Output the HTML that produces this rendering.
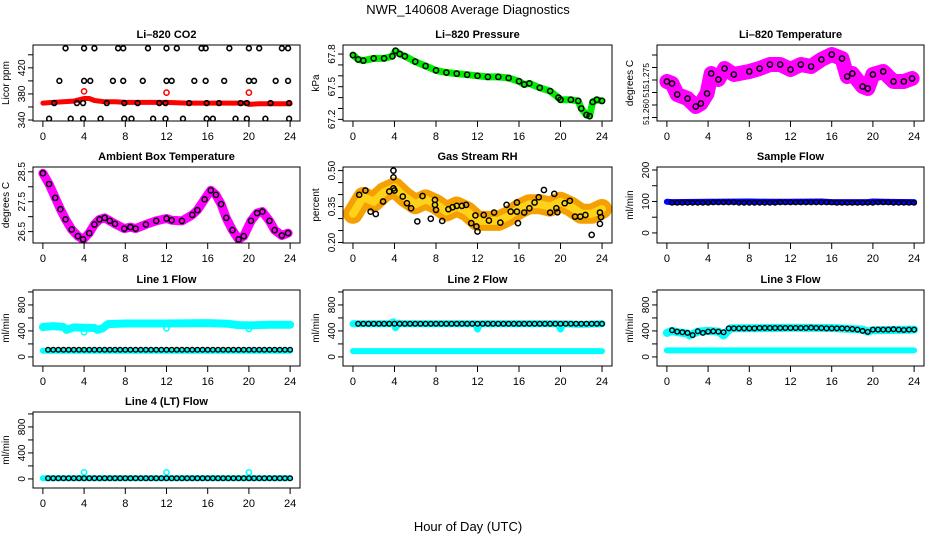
<!DOCTYPE html>
<html><head><meta charset="utf-8"><title>NWR_140608 Average Diagnostics</title>
<style>
html,body{margin:0;padding:0;background:#fff;}
svg{display:block;font-family:"Liberation Sans",Arial,sans-serif;}
</style></head>
<body>
<svg id="chart" width="936" height="540" viewBox="0 0 936 540" xmlns="http://www.w3.org/2000/svg">
<rect width="936" height="540" fill="#fff"/>
<text x="468" y="14" text-anchor="middle" font-size="13">NWR_140608  Average Diagnostics</text>
<text x="468" y="531" text-anchor="middle" font-size="13">Hour of Day (UTC)</text>
</svg>
<script>
// ---- data ----
const co2Hours=[0,1,2,3,3.5,4,4.5,5,6,7,8,10,12,14,16,18,19.9,20,21,22,24];
const co2Red=[366,367,368,369,371,373,373,370,368,368,367,367,367,366,366,366,366,364,365,365,365];
const co2RedCircleHours=[4,12,20];
const co2RedCircles=[384,382,382];
const co2TopHours=[2.2,4,5,7.3,7.8,10.2,12,13,15.4,15.8,18.1,20,21,23.2,23.8];
const co2Row400Hours=[1.6,4,4.6,6.8,7.8,9.7,12,12.5,14.7,15.8,17.6,20,20.5,22.6,23.8];
const co2Row366Hours=[1.1,3.3,3.9,6.2,7.9,9.2,11.3,11.9,14.2,15.9,17.1,19.2,19.8,22.1,23.9];
const co2Row342Hours=[0.6,2.7,3.9,5.6,7.9,8.6,10.7,11.9,13.6,15.9,16.5,18.7,19.8,21.6,23.9];
const co2Levels=[450,400,366,342];

const presHours=[0,0.5,1,2,3,3.8,4.1,4.5,5,6,7,8,9,10,11,12,13,14,15,16,16.5,17,18,19,19.8,20,21,21.7,22,22.5,22.8,23.1,23.5,24];
const presVals=[67.79,67.75,67.74,67.76,67.76,67.78,67.83,67.80,67.78,67.73,67.69,67.65,67.63,67.62,67.61,67.60,67.59,67.59,67.58,67.55,67.52,67.53,67.49,67.46,67.40,67.38,67.38,67.37,67.30,67.24,67.23,67.36,67.38,67.37];

const tempHours=[0,0.5,1,2,2.8,3.3,3.9,4.3,5,5.6,6.5,8,9,10,11,12,13,14,15,16,17,17.5,18,19,19.5,20,21,22,23,23.8];
const tempVals=[51.2694,51.2686,51.2642,51.2626,51.2594,51.2606,51.2646,51.2726,51.2702,51.2746,51.2722,51.2734,51.2746,51.2762,51.2762,51.2742,51.2762,51.2754,51.2782,51.2802,51.2786,51.2714,51.2726,51.2674,51.2666,51.2722,51.2734,51.2694,51.2694,51.2706];

const ambHours=[0,0.6,1.2,1.7,2.2,2.8,3.4,3.9,4.5,5,5.5,6,6.5,7,7.9,8.5,9,10,11,12,12.5,13.5,14.5,15,15.7,16.3,16.8,17.3,17.8,18.4,19,19.5,20.2,20.8,21.3,22,22.5,23.2,23.8];
const ambVals=[28.45,28.09,27.63,27.25,26.91,26.57,26.35,26.24,26.45,26.74,26.91,26.96,26.86,26.76,26.6,26.65,26.6,26.74,26.86,26.94,26.88,26.86,27.06,27.22,27.58,27.88,27.73,27.42,26.96,26.55,26.24,26.35,26.86,27.12,27.17,26.86,26.55,26.37,26.45];

const rhBandHours=[0,1,2,3,4,5,6,7,8,9,10,11,12,13,14,15,16,17,18,19,20,21,22,23,24];
const rhBandVals=[0.32,0.39,0.37,0.41,0.43,0.39,0.36,0.38,0.36,0.33,0.35,0.33,0.29,0.29,0.29,0.31,0.34,0.36,0.36,0.35,0.37,0.35,0.32,0.32,0.34];
const rhHours=[0.6,1.2,1.7,2.2,2.9,3.5,3.9,3.9,3.9,4.0,4.8,5.2,5.6,6.2,6.7,7.5,7.9,7.9,8.0,8.6,9.2,9.6,10.0,10.5,10.9,11.4,11.8,11.9,12.0,12.6,13.1,13.6,14.2,14.8,15.2,15.8,15.9,15.8,16.5,17.0,17.5,17.9,18.4,19.0,19.4,19.6,19.7,20.4,20.9,21.4,21.9,22.4,23.0,23.8,23.9,23.8];
const rhVals=[0.399,0.417,0.329,0.319,0.371,0.413,0.426,0.472,0.50,0.417,0.392,0.364,0.343,0.288,0.394,0.299,0.378,0.357,0.336,0.290,0.339,0.347,0.353,0.353,0.357,0.281,0.313,0.267,0.246,0.315,0.292,0.325,0.283,0.357,0.329,0.367,0.281,0.329,0.325,0.343,0.367,0.389,0.419,0.325,0.403,0.343,0.326,0.364,0.374,0.308,0.308,0.315,0.232,0.325,0.306,0.278];

const halfHours=[0.5,1,1.5,2,2.5,3,3.5,4,4.5,5,5.5,6,6.5,7,7.5,8,8.5,9,9.5,10,10.5,11,11.5,12,12.5,13,13.5,14,14.5,15,15.5,16,16.5,17,17.5,18,18.5,19,19.5,20,20.5,21,21.5,22,22.5,23,23.5,24];
const sampleBlack=[96,96,96,96,96,96,96,96,97,97,97,97,97,96,96,96,96,96,96,96,96,97,97,97,97,97,97,97,97,97,97,97,96,96,96,96,96,96,96,96,97,97,97,96,96,96,96,96];
const sampleBlueHours=[0,0.5,4,8,10,12,15,16,19.5,20,21,24];
const sampleBlue=[99,98,99,100,99,99,100,98,98,100,99,98];

const line1UpperHours=[0,1,2,2.3,3,4,5,5.3,5.8,6.3,8,12,16,18,19,20,22,24];
const line1Upper=[460,475,460,415,455,450,445,415,440,505,515,515,520,510,490,485,495,495];
const line1LowerHours=[0,24];
const line1Lower=[95,95];
const line1Black=[110,110,110,110,110,110,110,110,110,110,110,110,110,110,110,110,110,110,110,110,110,110,110,110,110,110,110,110,110,110,110,110,110,110,110,110,110,110,110,110,110,110,110,110,110,110,110,110];
const flowCircleHours=[4,12,20];
const line1Circles=[380,440,430];

const line2UpperHours=[0,3.5,3.9,4.1,4.4,4.8,11.8,12,12.2,19.8,20,20.2,22,24];
const line2Upper=[510,510,540,450,520,510,510,430,510,510,430,510,500,510];
const line2LowerHours=[0,24];
const line2Lower=[90,90];
const line2Black=[510,510,510,510,510,510,510,510,510,510,510,510,510,510,510,510,510,510,510,510,510,510,510,510,510,510,510,510,510,510,510,510,510,510,510,510,510,510,510,510,510,510,510,510,510,510,510,510];

const line3UpperHours=[0,0.5,1,2,2.2,3,4,5,5.5,5.8,6.2,8,12,16,19,19.5,20,24];
const line3Upper=[370,400,380,360,330,390,400,390,330,380,440,440,450,445,420,390,410,420];
const line3LowerHours=[0,24];
const line3Lower=[100,100];
const line3Black=[410,390,380,370,335,395,370,390,395,390,380,440,440,440,440,440,440,445,445,445,445,445,445,445,445,445,445,450,445,445,440,440,440,440,435,430,420,400,385,420,420,420,420,425,420,415,420,420];

const line4Hours=[0,24];
const line4Cyan=[10,10];
const line4Black=[10,10,10,10,10,10,10,10,10,10,10,10,10,10,10,10,10,10,10,10,10,10,10,10,10,10,10,10,10,10,10,10,10,10,10,10,10,10,10,10,10,10,10,10,10,10,10,10];
const line4Circles=[100,100,100];

const xTicks=[0,4,8,12,16,20,24];

// ---- drawing ----
const NS='http://www.w3.org/2000/svg';
const svg=document.getElementById('chart');
const colsX=[[33,300],[343,612],[657,924]];
const rowsY=[45,167,290,412];
const PH=76;
let clipId=0;
function mk(tag,attrs,parent){
  const el=document.createElementNS(NS,tag);
  for(const k in attrs) el.setAttribute(k,attrs[k]);
  (parent||svg).appendChild(el);
  return el;
}
function panel(c,r,ylim,name,title,ylab,yticks,ylabels,lfs){
  const x0=colsX[c][0],x1=colsX[c][1],y0=rowsY[r],y1=y0+PH;
  const g=mk('g',{});
  
  
  const p={x:h=>x0+(h+0.96)/25.92*(x1-x0),y:v=>y1-(v-ylim[0])/(ylim[1]-ylim[0])*PH,g:g};
  const t=mk('text',{x:(x0+x1)/2,y:y0-7,'text-anchor':'middle','font-size':11,'font-weight':'bold'},g);
  t.textContent=title;
  
  
  const yl=mk('text',{x:0,y:0,'text-anchor':'middle','font-size':10,transform:`translate(${x0-24},${(y0+y1)/2}) rotate(-90)`},g);
  yl.textContent=ylab;
  
  
  xTicks.forEach(h=>{
    const X=p.x(h);
    const tk=mk('line',{x1:X,x2:X,y1:y1,y2:y1+6,stroke:'#000','stroke-width':1},g);
    
    
    const tl=mk('text',{x:X,y:y1+19,'text-anchor':'middle','font-size':11},g);
    tl.textContent=h;
    
    
  });
  yticks.forEach(v=>{
    const Y=p.y(v);
    const tk=mk('line',{x1:x0-5,x2:x0,y1:Y,y2:Y,stroke:'#000','stroke-width':1},g);
    
    
  });
  ylabels.forEach(([v,s])=>{
    const Y=p.y(v);
    const tl=mk('text',{x:0,y:0,'text-anchor':'middle','font-size':lfs||10,transform:`translate(${x0-8},${Y}) rotate(-90)`},g);
    tl.textContent=s;
    
    
  });
  clipId++;
  const cp=mk('clipPath',{id:'cp'+clipId},g);
  mk('rect',{x:x0,y:y0,width:x1-x0,height:PH},cp);
  const marks=mk('g',{'clip-path':`url(#cp${clipId})`},g);
  
  
  p.m=marks;
  p.box=()=>{
    const b=mk('rect',{x:x0,y:y0,width:x1-x0,height:PH,fill:'none',stroke:'#000','stroke-width':1},g);
    
    
  };
  return p;
}
function band(p,hs,vs,color,w,name){
  const pts=hs.map((h,i)=>p.x(h).toFixed(1)+','+p.y(vs[i]).toFixed(1)).join(' ');
  const l=mk('polyline',{points:pts,fill:'none',stroke:color,'stroke-width':w,'stroke-linejoin':'round','stroke-linecap':'round'},p.m);
  
  
}
function circles(p,hs,vs,color,name,r,sw){
  hs.forEach((h,i)=>{
    const c=mk('circle',{cx:p.x(h),cy:p.y(vs[i]),r:r||2.6,fill:'none',stroke:color,'stroke-width':sw||1.5},p.m);
    
    
  });
}
function range(a,b,s){const o=[];for(let v=a;v<=b+1e-9;v+=s)o.push(+v.toFixed(6));return o;}

// CO2
let p=panel(0,0,[338.5,455],'co2','Li\u2013820 CO2','Licor ppm',range(340,440,20),[[340,'340'],[380,'380'],[420,'420']]);
band(p,co2Hours,co2Red,'#ff0000',5,'co2-red-band');
circles(p,co2RedCircleHours,co2RedCircles,'#ff0000','co2-red-point');
[co2TopHours,co2Row400Hours,co2Row366Hours,co2Row342Hours].forEach((hs,k)=>{
  circles(p,hs,hs.map(()=>co2Levels[k]),'#000','co2-black-point',2.4,1.6);
});
p.box();

// Pressure
p=panel(1,0,[67.185,67.883],'pressure','Li\u2013820 Pressure','kPa',range(67.2,67.8,0.1),[[67.2,'67.2'],[67.5,'67.5'],[67.8,'67.8']]);
band(p,presHours,presVals,'#00ee00',7,'pressure-green-band');
circles(p,presHours,presVals,'#000','pressure-black-point');
p.box();

// Temperature
p=panel(2,0,[51.2536,51.284],'temperature','Li\u2013820 Temperature','degrees C',range(51.255,51.28,0.005),[[51.2572,'51.260'],[51.2648,'51'],[51.2716,'51.275']],8.5);
band(p,tempHours,tempVals,'#ff00ff',15,'temperature-magenta-band');
circles(p,tempHours,tempVals,'#000','temperature-black-point');
p.box();

// Ambient
p=panel(0,1,[26.12,28.66],'ambient','Ambient Box Temperature','degrees C',range(26.5,28.5,0.5),[[26.5,'26.5'],[27.5,'27.5'],[28.5,'28.5']]);
band(p,ambHours,ambVals,'#ff00ff',9,'ambient-magenta-band');
circles(p,ambHours,ambVals,'#000','ambient-black-point');
p.box();

// RH
p=panel(1,1,[0.198,0.515],'rh','Gas Stream RH','percent',range(0.2,0.5,0.05),[[0.2,'0.20'],[0.35,'0.35'],[0.5,'0.50']]);
band(p,rhBandHours,rhBandVals,'#f4a000',20,'rh-orange-band');
band(p,rhBandHours,rhBandVals,'#ffd21a',8,'rh-yellow-band');
circles(p,rhHours,rhVals,'#000','rh-black-point');
p.box();

// Sample flow
p=panel(2,1,[-32,209.5],'sample-flow','Sample Flow','ml/min',range(0,200,50),[[0,'0'],[100,'100'],[200,'200']]);
band(p,sampleBlueHours,sampleBlue,'#0000ff',6,'sample-blue-band');
circles(p,halfHours,sampleBlack,'#000','sample-black-point',2.3,1.4);
p.box();

const flowLim=[-140,1030],flowTicks=range(0,1000,200),flowLabels=[[0,'0'],[400,'400'],[800,'800']];
// Line 1
p=panel(0,2,flowLim,'line1','Line 1 Flow','ml/min',flowTicks,flowLabels);
band(p,line1UpperHours,line1Upper,'#00ffff',8,'line1-upper-cyan');
band(p,line1LowerHours,line1Lower,'#00ffff',6,'line1-lower-cyan');
circles(p,flowCircleHours,line1Circles,'#00ffff','line1-cyan-point');
circles(p,halfHours,line1Black,'#000','line1-black-point',2.3,1.4);
p.box();
// Line 2
p=panel(1,2,flowLim,'line2','Line 2 Flow','ml/min',flowTicks,flowLabels);
band(p,line2UpperHours,line2Upper,'#00ffff',7,'line2-upper-cyan');
band(p,line2LowerHours,line2Lower,'#00ffff',6,'line2-lower-cyan');
circles(p,halfHours,line2Black,'#000','line2-black-point',2.3,1.4);
p.box();
// Line 3
p=panel(2,2,flowLim,'line3','Line 3 Flow','ml/min',flowTicks,flowLabels);
band(p,line3UpperHours,line3Upper,'#00ffff',8,'line3-upper-cyan');
band(p,line3LowerHours,line3Lower,'#00ffff',6,'line3-lower-cyan');
circles(p,halfHours,line3Black,'#000','line3-black-point',2.3,1.4);
p.box();
// Line 4
p=panel(0,3,flowLim,'line4','Line 4 (LT) Flow','ml/min',flowTicks,flowLabels);
band(p,line4Hours,line4Cyan,'#00ffff',6,'line4-cyan');
circles(p,flowCircleHours,line4Circles,'#00ffff','line4-cyan-point');
circles(p,halfHours,line4Black,'#000','line4-black-point',2.3,1.4);
p.box();
</script>
</body></html>
